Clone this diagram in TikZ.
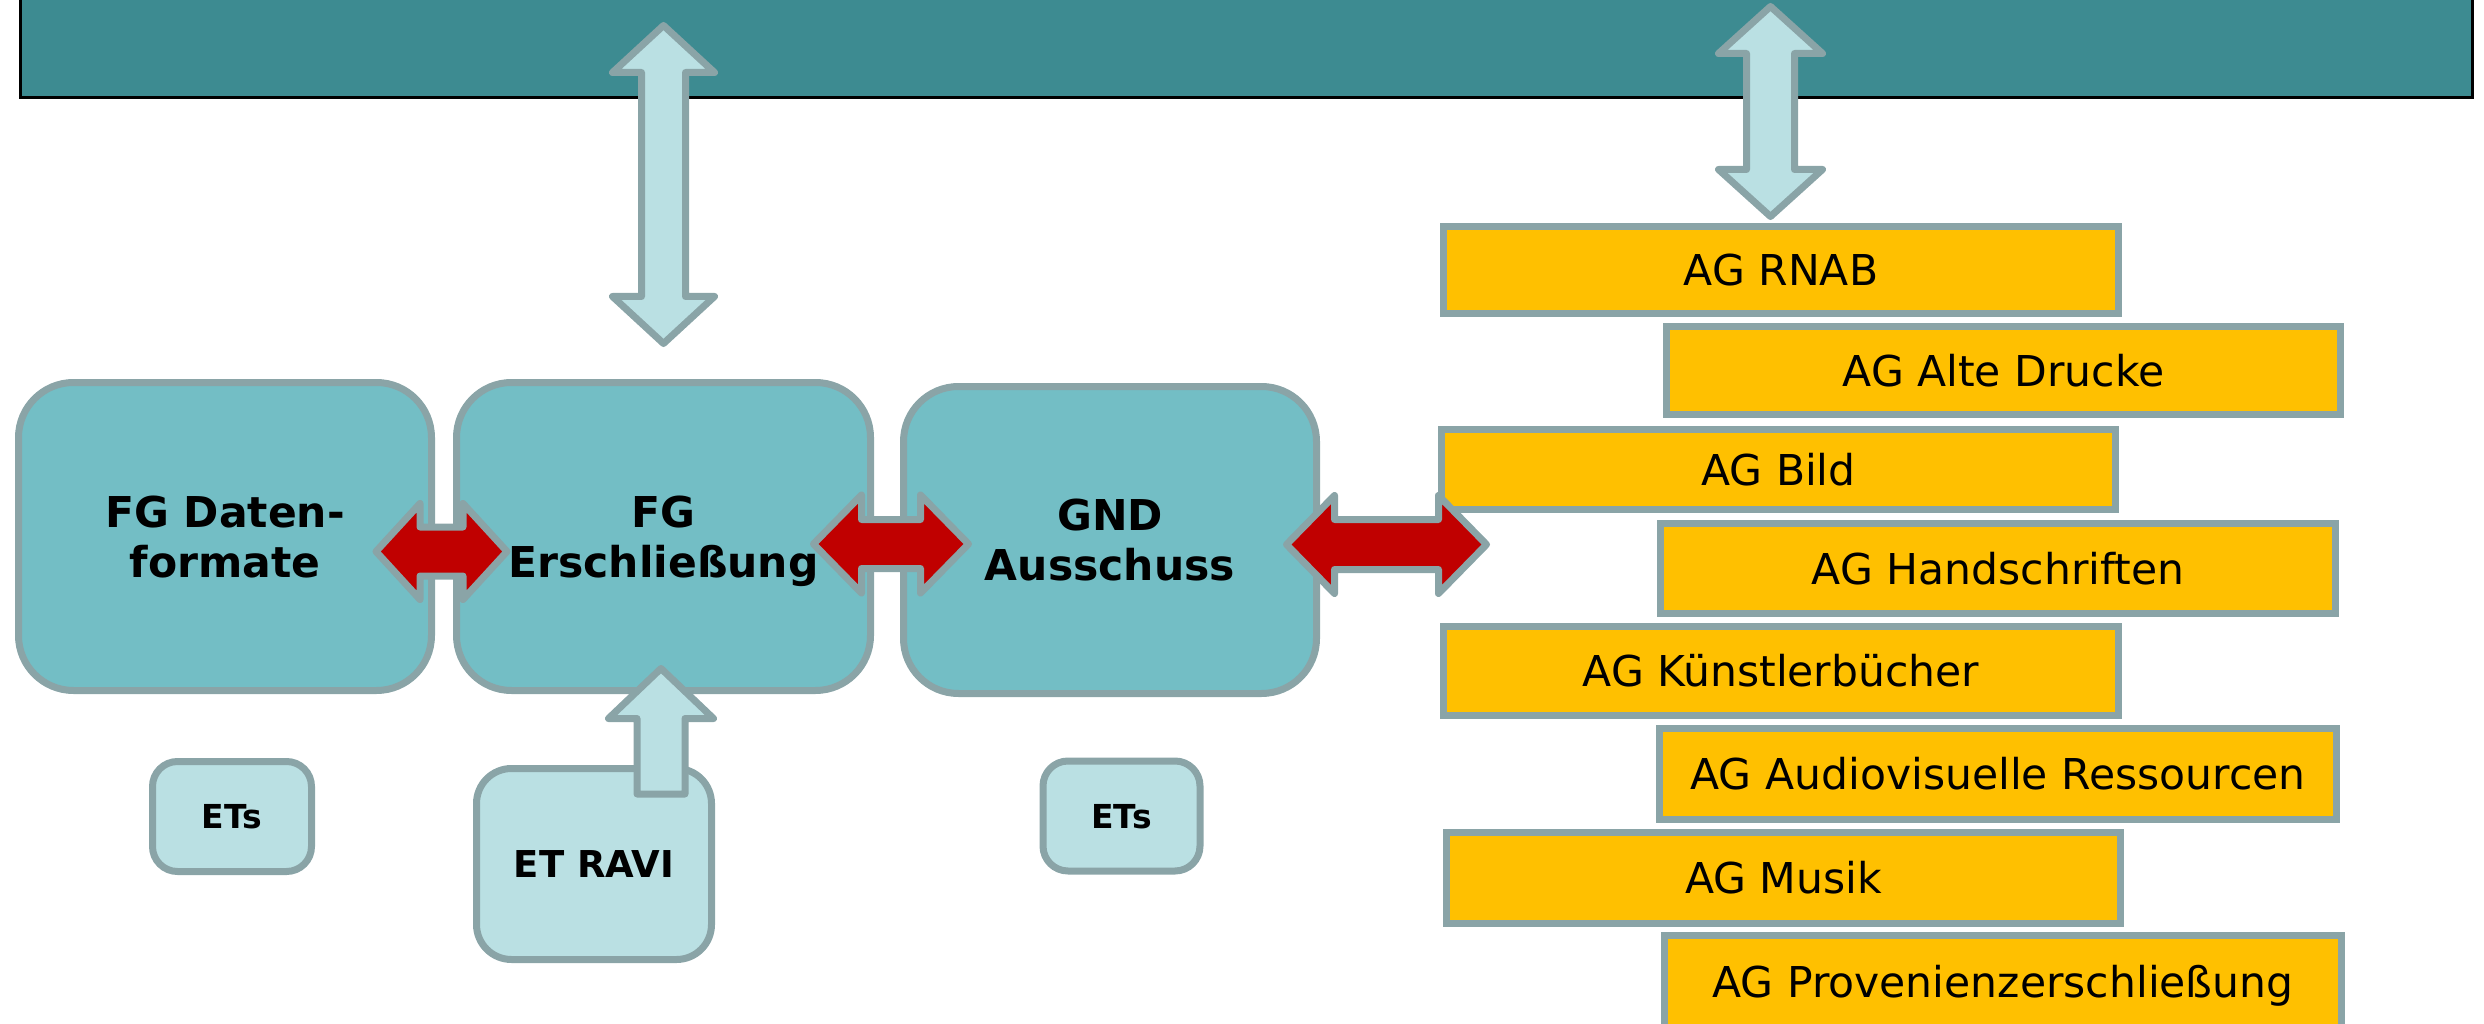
\documentclass[tikz,border=0pt]{standalone}
\usepackage{fontspec}
\setmainfont{DejaVu Sans}
\definecolor{bandcol}{HTML}{3D8B91}
\definecolor{maincol}{HTML}{73BEC5}
\definecolor{lightcol}{HTML}{BAE0E3}
\definecolor{edgecol}{HTML}{8AA4A7}
\definecolor{redcol}{HTML}{C00000}
\definecolor{agcol}{HTML}{FFC000}
\newcommand\HDArrow[7]{% style, xL, xR, yc, headlen, headhalf, shafthalf
 \path[#1] (#2,#4) -- (#2+#5,#4-#6) -- (#2+#5,#4-#7) -- (#3-#5,#4-#7) -- (#3-#5,#4-#6) -- (#3,#4) -- (#3-#5,#4+#6) -- (#3-#5,#4+#7) -- (#2+#5,#4+#7) -- (#2+#5,#4+#6) -- cycle;}
\newcommand\VDArrow[7]{% style, xc, yT, yB, headlen, headhalf, shafthalf
 \path[#1] (#2,#3) -- (#2+#6,#3+#5) -- (#2+#7,#3+#5) -- (#2+#7,#4-#5) -- (#2+#6,#4-#5) -- (#2,#4) -- (#2-#6,#4-#5) -- (#2-#7,#4-#5) -- (#2-#7,#3+#5) -- (#2-#6,#3+#5) -- cycle;}
\newcommand\UArrow[7]{% style, xc, ytip, ybot, headlen, headhalf, shafthalf
 \path[#1] (#2,#3) -- (#2+#6,#3+#5) -- (#2+#7,#3+#5) -- (#2+#7,#4) -- (#2-#7,#4) -- (#2-#7,#3+#5) -- (#2-#6,#3+#5) -- cycle;}
\begin{document}
\begin{tikzpicture}[x=1pt,y=-1pt,
  mainbox/.style={draw=edgecol,fill=maincol,line width=7pt,rounded corners=55pt,
    font=\fontsize{42.5}{50}\selectfont\bfseries,align=center,text depth=0pt,inner sep=0pt},
  etbox/.style={draw=edgecol,fill=lightcol,line width=7pt,rounded corners=25pt,
    font=\fontsize{33}{38}\selectfont\bfseries,inner sep=0pt,text height=24pt,text depth=0pt},
  agbox/.style={draw=edgecol,fill=agcol,line width=7pt,
    font=\fontsize{42.5}{50}\selectfont,inner sep=0pt,text height=31pt,text depth=0pt},
  bluearrow/.style={draw=edgecol,fill=lightcol,line width=7pt,line join=round},
  redarrow/.style={draw=edgecol,fill=redcol,line width=7pt,line join=round}]
\useasboundingbox (0,0) rectangle (2484,1024);
\clip (0,0) rectangle (2484,1024);
% top band
\path[draw=black,fill=bandcol,line width=3pt] (20.5,-20) rectangle (2472.5,97.5);
% vertical arrows
\VDArrow{bluearrow}{663.5}{25.5}{343.5}{47}{51}{22}
\VDArrow{bluearrow}{1770.5}{6.5}{216.5}{47}{52}{24}
% main boxes
\node[mainbox,minimum width=413pt,minimum height=308pt] (fgd) at (225,536.5) {FG Daten-\\formate};
\node[mainbox,minimum width=414pt,minimum height=308pt] (fge) at (663.5,536.5) {FG\\Erschließung};
\node[mainbox,minimum width=413pt,minimum height=307pt] (gnd) at (1110,540) {GND\\Ausschuss};
% ET boxes
\node[etbox,minimum width=159pt,minimum height=110pt] (et1) at (232,816.5) {ETs};
\node[etbox,minimum width=157pt,minimum height=110pt] (et2) at (1121.5,816) {ETs};
\node[etbox,rounded corners=35pt,font=\fontsize{37}{42}\selectfont\bfseries,text height=27pt,
  minimum width=235pt,minimum height=191pt] (ravi) at (594,864) {ET RAVI};
\UArrow{bluearrow}{661}{668.5}{794}{50}{52.5}{24}
% red arrows
\HDArrow{redarrow}{376}{507}{551.5}{44}{48}{24.5}
\HDArrow{redarrow}{813.5}{968.5}{544}{48}{49}{24.5}
% AG boxes
\node[agbox,minimum width=675pt,minimum height=87pt] (ag1) at (1781,270) {AG RNAB};
\node[agbox,minimum width=674pt,minimum height=88pt] (ag2) at (2003.5,370.5) {AG Alte Drucke};
\node[agbox,minimum width=674pt,minimum height=80pt] (ag3) at (1778.5,469.5) {AG Bild};
\node[agbox,minimum width=675pt,minimum height=90pt] (ag4) at (1998,568.5) {AG Handschriften};
\node[agbox,minimum width=675pt,minimum height=89pt] (ag5) at (1781,671) {AG Künstlerbücher};
\node[agbox,minimum width=677pt,minimum height=91pt] (ag6) at (1998,774) {AG Audiovisuelle Ressourcen};
\node[agbox,minimum width=674pt,minimum height=91pt] (ag7) at (1783.5,878) {AG Musik};
\node[agbox,minimum width=677pt,minimum height=92pt] (ag8) at (2003,981.5) {AG Provenienzerschließung};
\HDArrow{redarrow}{1286.5}{1486.5}{544.5}{48}{49}{25}
\end{tikzpicture}
\end{document}
